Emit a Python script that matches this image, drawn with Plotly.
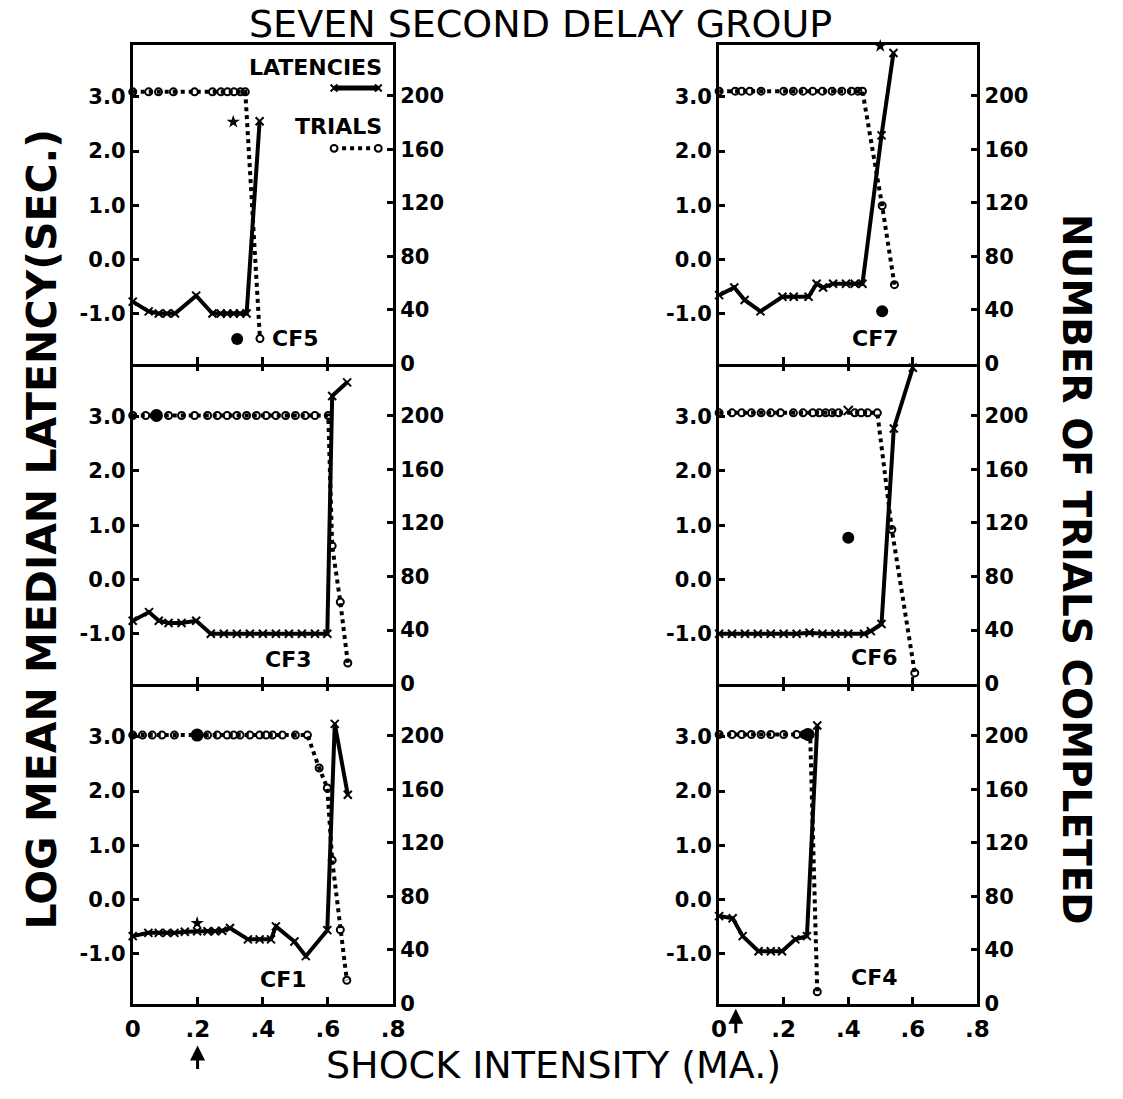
import plotly.graph_objects as go

W, H = 1123, 1099

# ---------------- data ----------------
# shock intensity (MA) on x; latency = log mean median latency (sec); trials = number of trials completed
cf5_lat_x = [0, 0.049, 0.08, 0.105, 0.13, 0.195, 0.245, 0.27, 0.29, 0.31, 0.33, 0.35, 0.39]
cf5_lat_y = [-0.78, -0.96, -1.0, -1.0, -1.0, -0.67, -1.0, -1.0, -1.0, -1.0, -1.0, -1.0, 2.55]
cf5_tri_x = [0, 0.049, 0.079, 0.125, 0.19, 0.245, 0.271, 0.291, 0.311, 0.331, 0.346, 0.391]
cf5_tri_y = [203, 203, 203, 203, 203, 203, 203, 203, 203, 203, 203, 18.5]
cf5_star = (0.309, 2.54)
cf5_dot = (0.321, -1.47)

cf7_lat_x = [0, 0.047, 0.079, 0.128, 0.196, 0.231, 0.277, 0.302, 0.322, 0.353, 0.393, 0.42, 0.444, 0.503, 0.54]
cf7_lat_y = [-0.66, -0.52, -0.75, -0.96, -0.69, -0.69, -0.69, -0.45, -0.52, -0.45, -0.45, -0.45, -0.45, 2.29, 3.81]
cf7_tri_x = [0, 0.05, 0.07, 0.095, 0.13, 0.2, 0.23, 0.26, 0.29, 0.32, 0.35, 0.38, 0.41, 0.43, 0.444, 0.505, 0.543]
cf7_tri_y = [203.5] * 15 + [117.8, 58.8]
cf7_star = (0.499, 3.94)
cf7_dot = (0.505, -0.96)

cf3_lat_x = [0, 0.05, 0.08, 0.11, 0.15, 0.195, 0.24, 0.28, 0.32, 0.36, 0.40, 0.44, 0.48, 0.52, 0.56, 0.598, 0.613, 0.659]
cf3_lat_y = [-0.76, -0.60, -0.76, -0.80, -0.80, -0.76, -1.0, -1.0, -1.0, -1.0, -1.0, -1.0, -1.0, -1.0, -1.0, -1.0, 3.38, 3.63]
cf3_tri_x = [0, 0.04, 0.11, 0.15, 0.19, 0.23, 0.26, 0.29, 0.32, 0.35, 0.38, 0.41, 0.44, 0.47, 0.50, 0.53, 0.56, 0.601, 0.613, 0.638, 0.661]
cf3_tri_y = [200] * 18 + [102.8, 61, 15.5]
cf3_bigdot = (0.073, 200)

cf6_lat_x = [0, 0.04, 0.08, 0.12, 0.16, 0.2, 0.24, 0.28, 0.32, 0.36, 0.40, 0.449, 0.47, 0.503, 0.541, 0.60]
cf6_lat_y = [-1.0, -1.0, -1.0, -1.0, -1.0, -1.0, -1.0, -0.98, -1.0, -1.0, -1.0, -1.0, -0.95, -0.82, 2.78, 3.9]
cf6_tri_x = [0, 0.04, 0.07, 0.1, 0.13, 0.16, 0.19, 0.23, 0.26, 0.29, 0.31, 0.33, 0.35, 0.37, 0.42, 0.44, 0.46, 0.49, 0.535, 0.606]
cf6_tri_y = [202] * 18 + [115, 8.1]
cf6_xmark = (0.40, 3.11)
cf6_dot = (0.40, 0.77)

cf1_lat_x = [0, 0.048, 0.08, 0.105, 0.128, 0.16, 0.198, 0.23, 0.253, 0.275, 0.299, 0.354, 0.39, 0.425, 0.44, 0.497, 0.532, 0.598, 0.621, 0.661]
cf1_lat_y = [-0.68, -0.62, -0.62, -0.62, -0.62, -0.60, -0.59, -0.59, -0.59, -0.58, -0.53, -0.74, -0.74, -0.74, -0.50, -0.78, -1.05, -0.57, 3.24, 1.93]
cf1_tri_x = [0, 0.03, 0.06, 0.09, 0.128, 0.23, 0.26, 0.29, 0.31, 0.33, 0.36, 0.39, 0.41, 0.43, 0.46, 0.5, 0.537, 0.573, 0.598, 0.613, 0.638, 0.658]
cf1_tri_y = [200.5] * 17 + [175.9, 161, 107, 55, 17.2]
cf1_star = (0.198, -0.44)
cf1_bigdot = (0.198, 200.5)

cf4_lat_x = [0, 0.042, 0.073, 0.122, 0.16, 0.195, 0.236, 0.272, 0.304]
cf4_lat_y = [-0.31, -0.35, -0.68, -0.96, -0.96, -0.96, -0.74, -0.68, 3.21]
cf4_tri_x = [0, 0.04, 0.07, 0.1, 0.13, 0.16, 0.2, 0.24, 0.262, 0.272, 0.282, 0.304]
cf4_tri_y = [201] * 11 + [8.6]
cf4_bigdot = (0.275, 201)

x_tickvals = [0, 0.2, 0.4, 0.6, 0.8]
x_ticktext = ["0", ".2", ".4", ".6", ".8"]
lat_tickvals = [-1, 0, 1, 2, 3]
lat_ticktext = ["-1.0", "0.0", "1.0", "2.0", "3.0"]
tri_tickvals = [0, 40, 80, 120, 160, 200]
tri_ticktext = ["0", "40", "80", "120", "160", "200"]

panel_names = ["CF5", "CF7", "CF3", "CF6", "CF1", "CF4"]

# ---------------- layout geometry (pixels) ----------------
col_px = [(127, 392), (724, 987)]
row_px = [(45, 368), (368, 692), (692, 1015)]
LAT_RANGE = [-1.932, 3.968]
TRI_RANGE = [-0.5, 238.4]
X_RANGE = [0, 0.8]

FONT = "DejaVu Sans"
BLACK = "black"

panels = [
    dict(lat=(cf5_lat_x, cf5_lat_y), tri=(cf5_tri_x, cf5_tri_y), star=cf5_star, dot=cf5_dot),
    dict(lat=(cf7_lat_x, cf7_lat_y), tri=(cf7_tri_x, cf7_tri_y), star=cf7_star, dot=cf7_dot),
    dict(lat=(cf3_lat_x, cf3_lat_y), tri=(cf3_tri_x, cf3_tri_y), bigdot=cf3_bigdot),
    dict(lat=(cf6_lat_x, cf6_lat_y), tri=(cf6_tri_x, cf6_tri_y), xmark=cf6_xmark, dot=cf6_dot),
    dict(lat=(cf1_lat_x, cf1_lat_y), tri=(cf1_tri_x, cf1_tri_y), star=cf1_star, bigdot=cf1_bigdot),
    dict(lat=(cf4_lat_x, cf4_lat_y), tri=(cf4_tri_x, cf4_tri_y), bigdot=cf4_bigdot),
]

fig = go.Figure()
layout = dict(
    width=W, height=H, margin=dict(l=0, r=0, t=0, b=0),
    paper_bgcolor="white", plot_bgcolor="white", showlegend=False,
    font=dict(family=FONT, color=BLACK),
)

def px2paper_x(px):
    return px / W

def px2paper_y(py):
    return 1 - py / H

annotations = []
shapes = []
extra_x = 7

for i, p in enumerate(panels):
    r, c = divmod(i, 2)
    xid = "x" if i == 0 else f"x{i+1}"
    yl = "y" if i == 0 else f"y{2*i+1}"
    yr = f"y{2*i+2}"
    x0, x1 = col_px[c]
    y0, y1 = row_px[r]
    tickfont = dict(family=FONT, size=21, weight="bold", color=BLACK)
    layout["xaxis" + ("" if i == 0 else str(i + 1))] = dict(
        domain=[px2paper_x(x0), px2paper_x(x1)], range=X_RANGE, anchor=yl,
        showline=True, linewidth=3, linecolor=BLACK, mirror=(True if r == 0 else False),
        ticks="inside", ticklen=7, tickwidth=3, tickcolor=BLACK,
        tickvals=x_tickvals, ticktext=x_ticktext, showticklabels=(r == 2),
        tickfont=dict(family=FONT, size=23, weight="bold", color=BLACK),
        ticklabelstandoff=2,
        showgrid=False, zeroline=False,
    )
    if r > 0:
        # downward ticks on the shared border (top edge of lower panels)
        layout[f"xaxis{extra_x}"] = dict(
            overlaying=xid, side="top", anchor=yl, range=X_RANGE,
            showline=False, ticks="inside", ticklen=7, tickwidth=3, tickcolor=BLACK,
            tickvals=x_tickvals[1:-1], showticklabels=False,
            showgrid=False, zeroline=False,
        )
        fig.add_trace(go.Scatter(x=[None], y=[None], xaxis=f"x{extra_x}", yaxis=yl,
                                 mode="markers", hoverinfo="skip"))
        extra_x += 1
    layout["yaxis" + ("" if i == 0 else str(2 * i + 1))] = dict(
        domain=[px2paper_y(y1), px2paper_y(y0)], range=LAT_RANGE, anchor=xid,
        showline=True, linewidth=3, linecolor=BLACK,
        ticks="inside", ticklen=6, tickwidth=3, tickcolor=BLACK,
        tickvals=lat_tickvals, ticktext=lat_ticktext, tickfont=tickfont,
        showgrid=False, zeroline=False, ticklabelstandoff=0,
    )
    layout["yaxis" + str(2 * i + 2)] = dict(
        overlaying=yl, side="right", range=TRI_RANGE, anchor=xid,
        showline=True, linewidth=3, linecolor=BLACK,
        ticks="inside", ticklen=6, tickwidth=3, tickcolor=BLACK,
        tickvals=tri_tickvals, ticktext=tri_ticktext, tickfont=tickfont,
        showgrid=False, zeroline=False, ticklabelstandoff=0,
    )

    tx, ty = p["tri"]
    fig.add_trace(go.Scatter(
        x=tx, y=ty, xaxis=xid, yaxis=yr, mode="lines+markers",
        line=dict(color=BLACK, width=4, dash="dot"),
        marker=dict(symbol="circle-open", size=7, color=BLACK, line=dict(width=2, color=BLACK)),
        cliponaxis=False,
    ))
    lx, ly = p["lat"]
    fig.add_trace(go.Scatter(
        x=lx, y=ly, xaxis=xid, yaxis=yl, mode="lines+markers",
        line=dict(color=BLACK, width=4),
        marker=dict(symbol="x-thin", size=8, color=BLACK, line=dict(width=2, color=BLACK)),
        cliponaxis=False,
    ))
    if "star" in p:
        fig.add_trace(go.Scatter(x=[p["star"][0]], y=[p["star"][1]], xaxis=xid, yaxis=yl,
                                 mode="markers", marker=dict(symbol="star", size=10, color=BLACK),
                                 cliponaxis=False))
    if "xmark" in p:
        fig.add_trace(go.Scatter(x=[p["xmark"][0]], y=[p["xmark"][1]], xaxis=xid, yaxis=yl,
                                 mode="markers", marker=dict(symbol="x-thin", size=9, color=BLACK,
                                                             line=dict(width=2, color=BLACK)),
                                 cliponaxis=False))
    if "dot" in p:
        fig.add_trace(go.Scatter(x=[p["dot"][0]], y=[p["dot"][1]], xaxis=xid, yaxis=yl,
                                 mode="markers", marker=dict(symbol="circle", size=12, color=BLACK),
                                 cliponaxis=False))
    if "bigdot" in p:
        fig.add_trace(go.Scatter(x=[p["bigdot"][0]], y=[p["bigdot"][1]], xaxis=xid, yaxis=yr,
                                 mode="markers", marker=dict(symbol="circle", size=13, color=BLACK),
                                 cliponaxis=False))

# panel labels
label_px = [(292, 342), (883, 342), (285, 667), (882, 665), (280, 990), (882, 988)]
for name, (lxp, lyp) in zip(panel_names, label_px):
    annotations.append(dict(text=name, x=px2paper_x(lxp), y=px2paper_y(lyp), xref="paper", yref="paper",
                            showarrow=False, xanchor="center", yanchor="middle",
                            font=dict(family=FONT, size=22, weight="bold", color=BLACK)))

# legend in first panel
annotations.append(dict(text="LATENCIES", x=px2paper_x(383), y=px2paper_y(68), xref="paper", yref="paper",
                        showarrow=False, xanchor="right", yanchor="middle",
                        font=dict(family=FONT, size=22, weight="bold", color=BLACK)))
annotations.append(dict(text="TRIALS", x=px2paper_x(383), y=px2paper_y(128), xref="paper", yref="paper",
                        showarrow=False, xanchor="right", yanchor="middle",
                        font=dict(family=FONT, size=22, weight="bold", color=BLACK)))
shapes.append(dict(type="line", xref="paper", yref="paper",
                   x0=px2paper_x(332), x1=px2paper_x(377), y0=px2paper_y(89), y1=px2paper_y(89),
                   line=dict(color=BLACK, width=5)))
for cx in (332, 377):
    for d in (1, -1):
        shapes.append(dict(type="line", xref="paper", yref="paper",
                           x0=px2paper_x(cx - 3.5), x1=px2paper_x(cx + 3.5),
                           y0=px2paper_y(89 - 3.5 * d), y1=px2paper_y(89 + 3.5 * d),
                           line=dict(color=BLACK, width=2)))
shapes.append(dict(type="line", xref="paper", yref="paper",
                   x0=px2paper_x(332), x1=px2paper_x(377), y0=px2paper_y(150), y1=px2paper_y(150),
                   line=dict(color=BLACK, width=4, dash="dot")))
for cx in (332, 377):
    shapes.append(dict(type="circle", xref="paper", yref="paper",
                       x0=px2paper_x(cx - 3.5), x1=px2paper_x(cx + 3.5),
                       y0=px2paper_y(150 + 3.5), y1=px2paper_y(150 - 3.5),
                       line=dict(color=BLACK, width=2), fillcolor="white"))

# titles
annotations.append(dict(text="SEVEN SECOND DELAY GROUP", x=px2paper_x(542), y=px2paper_y(24),
                        xref="paper", yref="paper", showarrow=False, xanchor="center", yanchor="middle",
                        font=dict(family=FONT, size=38, color=BLACK)))
annotations.append(dict(text="LOG MEAN MEDIAN LATENCY(SEC.)", x=px2paper_x(35), y=px2paper_y(535),
                        xref="paper", yref="paper", showarrow=False, xanchor="center", yanchor="middle",
                        textangle=-90, font=dict(family=FONT, size=41, weight="bold", color=BLACK)))
annotations.append(dict(text="NUMBER OF TRIALS COMPLETED", x=px2paper_x(1088), y=px2paper_y(576),
                        xref="paper", yref="paper", showarrow=False, xanchor="center", yanchor="middle",
                        textangle=90, font=dict(family=FONT, size=39, weight="bold", color=BLACK)))
annotations.append(dict(text="SHOCK INTENSITY (MA.)", x=px2paper_x(555), y=px2paper_y(1077),
                        xref="paper", yref="paper", showarrow=False, xanchor="center", yanchor="middle",
                        font=dict(family=FONT, size=38, color=BLACK)))

# arrows under the x axes
for (tipx, tipy, tail) in [(193, 1057, 25), (741, 1020, 26)]:
    annotations.append(dict(text="", x=px2paper_x(tipx), y=px2paper_y(tipy), xref="paper", yref="paper",
                            showarrow=True, arrowhead=2, arrowsize=1, arrowwidth=3, arrowcolor=BLACK,
                            ax=0, ay=tail))

layout["annotations"] = annotations
layout["shapes"] = shapes
fig.update_layout(**layout)
fig.write_html("out.html")
